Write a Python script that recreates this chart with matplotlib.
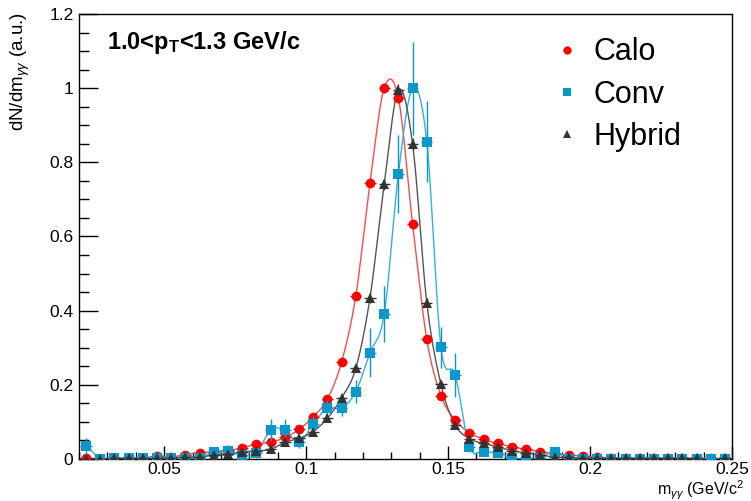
import numpy as np
import matplotlib
matplotlib.use("Agg")
import matplotlib.pyplot as plt
from matplotlib.lines import Line2D
from matplotlib.ticker import MultipleLocator, FuncFormatter

plt.rcParams['font.family'] = ['Liberation Sans', 'DejaVu Sans']
plt.rcParams['mathtext.fontset'] = 'custom'
plt.rcParams['mathtext.rm'] = 'Liberation Sans'
plt.rcParams['mathtext.it'] = 'Liberation Sans:italic'
plt.rcParams['mathtext.bf'] = 'Liberation Sans:bold'

# ---------------- data ----------------
mass = 0.0225 + 0.005 * np.arange(46)   # bin centres (GeV/c^2)

calo = [0.002, 0.001, 0.002, 0.002, 0.003, 0.008, 0.006, 0.012, 0.017, 0.019,
        0.023, 0.030, 0.041, 0.045, 0.058, 0.080, 0.114, 0.162, 0.262, 0.440,
        0.745, 1.000, 0.973, 0.633, 0.323, 0.171, 0.105, 0.071, 0.053, 0.042,
        0.033, 0.026, 0.020, 0.013, 0.011, 0.008, 0.005, 0.003, 0.002, 0.003,
        0.002, 0.002, 0.002, 0.002, 0.002, 0.002]
calo_err = [0.003, 0.002, 0.002, 0.002, 0.003, 0.004, 0.004, 0.004, 0.005, 0.005,
            0.005, 0.006, 0.006, 0.006, 0.007, 0.008, 0.009, 0.010, 0.010, 0.011,
            0.012, 0.013, 0.013, 0.012, 0.010, 0.009, 0.008, 0.007, 0.006, 0.006,
            0.005, 0.005, 0.004, 0.004, 0.004, 0.003, 0.003, 0.003, 0.002, 0.002,
            0.002, 0.002, 0.002, 0.002, 0.002, 0.002]

conv = [0.034, 0.001, 0.002, 0.002, 0.002, 0.002, 0.002, 0.003, 0.003, 0.020,
        0.021, 0.010, 0.016, 0.078, 0.078, 0.045, 0.095, 0.138, 0.137, 0.182,
        0.287, 0.391, 0.769, 1.000, 0.856, 0.301, 0.227, 0.033, 0.020, 0.017,
        0.002, 0.002, 0.004, 0.020, 0.001, 0.001, 0.001, 0.001, 0.001, 0.001,
        0.001, 0.001, 0.001, 0.001, 0.001, 0.001]
conv_err = [0.022, 0.002, 0.003, 0.003, 0.003, 0.003, 0.003, 0.003, 0.003, 0.010,
            0.010, 0.010, 0.012, 0.030, 0.030, 0.015, 0.020, 0.020, 0.020, 0.030,
            0.065, 0.075, 0.105, 0.125, 0.110, 0.055, 0.060, 0.015, 0.012, 0.010,
            0.003, 0.003, 0.004, 0.010, 0.002, 0.002, 0.002, 0.002, 0.002, 0.002,
            0.002, 0.002, 0.002, 0.002, 0.002, 0.002]

hybrid = [0.001, 0.001, 0.002, 0.002, 0.002, 0.002, 0.003, 0.006, 0.005, 0.011,
          0.013, 0.019, 0.022, 0.026, 0.045, 0.056, 0.074, 0.110, 0.165, 0.245,
          0.435, 0.741, 0.995, 0.849, 0.422, 0.201, 0.092, 0.055, 0.042, 0.033,
          0.022, 0.017, 0.011, 0.005, 0.005, 0.002, 0.003, 0.002, 0.002, 0.002,
          0.002, 0.002, 0.002, 0.002, np.nan, 0.002]
hybrid_err = [0.002, 0.002, 0.002, 0.002, 0.002, 0.002, 0.003, 0.003, 0.003, 0.004,
              0.004, 0.004, 0.005, 0.005, 0.006, 0.007, 0.008, 0.009, 0.010, 0.011,
              0.013, 0.015, 0.017, 0.016, 0.012, 0.009, 0.007, 0.006, 0.005, 0.005,
              0.004, 0.004, 0.003, 0.003, 0.003, 0.002, 0.002, 0.002, 0.002, 0.002,
              0.002, 0.002, 0.002, 0.002, np.nan, 0.002]

labels = ["Calo", "Conv", "Hybrid"]
colors = ["#ff0000", "#0a97c9", "#333333"]
line_colors = ["#ff4a4a", "#38aee0", "#555555"]
markers = ["o", "s", "^"]
msizes = [7.0, 6.5, 7.0]
x_half = 0.002


def smooth_curve(x, y, n=20):
    """Catmull-Rom curve through consecutive valid points (breaks at NaN)."""
    x = np.asarray(x, float)
    y = np.asarray(y, float)
    xs_all, ys_all = [], []
    valid = ~np.isnan(y)
    idx = np.where(valid)[0]
    runs = np.split(idx, np.where(np.diff(idx) != 1)[0] + 1)
    for r in runs:
        if len(r) < 2:
            continue
        px = x[r]
        py = y[r]
        px_p = np.concatenate([[2 * px[0] - px[1]], px, [2 * px[-1] - px[-2]]])
        py_p = np.concatenate([[py[0]], py, [py[-1]]])
        t = np.linspace(0, 1, n, endpoint=False)
        segx, segy = [], []
        for i in range(1, len(px_p) - 2):
            p0, p1, p2, p3 = py_p[i - 1], py_p[i], py_p[i + 1], py_p[i + 2]
            m1 = (p2 - p0) / 2.0
            m2 = (p3 - p1) / 2.0
            h00 = 2 * t**3 - 3 * t**2 + 1
            h10 = t**3 - 2 * t**2 + t
            h01 = -2 * t**3 + 3 * t**2
            h11 = t**3 - t**2
            segy.append(h00 * p1 + h10 * m1 + h01 * p2 + h11 * m2)
            segx.append(px_p[i] + t * (px_p[i + 1] - px_p[i]))
        segx.append([px[-1]])
        segy.append([py[-1]])
        xs_all.append(np.concatenate(segx))
        ys_all.append(np.concatenate(segy))
        xs_all.append([np.nan])
        ys_all.append([np.nan])
    return np.concatenate(xs_all), np.concatenate(ys_all)


fig = plt.figure(figsize=(7.51, 5.01), dpi=100)
ax = fig.add_axes([79 / 751, 1 - 459 / 501, 653 / 751, 445 / 501])

series = [(calo, calo_err), (conv, conv_err), (hybrid, hybrid_err)]

for (vals, errs), lc in zip(series, line_colors):
    sx, sy = smooth_curve(mass, vals)
    ax.plot(sx, sy, color=lc, lw=1.0, zorder=2, clip_on=True)

for i, ((vals, errs), c, m, ms) in enumerate(zip(series, colors, markers, msizes)):
    ax.errorbar(mass, vals, yerr=errs, xerr=x_half, fmt=m, color=c, ms=ms,
                mec=c, mew=0, elinewidth=1.0, capsize=0, zorder=3 + i)

ax.set_xlim(0.02, 0.25)
ax.set_ylim(0, 1.2)

ax.xaxis.set_major_locator(MultipleLocator(0.05))
ax.xaxis.set_minor_locator(MultipleLocator(0.01))
ax.yaxis.set_major_locator(MultipleLocator(0.2))
ax.yaxis.set_minor_locator(MultipleLocator(0.05))
fmt = FuncFormatter(lambda v, p: "%g" % round(v, 4))
ax.xaxis.set_major_formatter(fmt)
ax.yaxis.set_major_formatter(fmt)

ax.tick_params(axis='both', which='both', direction='in', top=False, right=False,
               labelsize=12.5, width=1.0, color='black')
ax.tick_params(axis='y', which='major', length=13.5, pad=4)
ax.tick_params(axis='y', which='minor', length=7)
ax.tick_params(axis='x', which='major', length=9.5, pad=2.5)
ax.tick_params(axis='x', which='minor', length=5)
for s in ax.spines.values():
    s.set_linewidth(1.0)

ax.set_ylabel(r"dN/dm$_{\gamma\gamma}$ (a.u.)", fontsize=13.5, loc='top')
ax.yaxis.set_label_coords(-0.072, 1.005)
ax.set_xlabel(r"m$_{\gamma\gamma}$ (GeV/c$^{2}$", fontsize=11.5, loc='right')
ax.xaxis.set_label_coords(1.018, -0.071)
ax.xaxis.label.set_va('center')

ax.text(0.043, 0.937, r"1.0<p$_{\mathbf{T}}$<1.3 GeV/c", transform=ax.transAxes,
        fontsize=17, fontweight='bold', ha='left', va='center')

handles = [Line2D([], [], linestyle='none', marker=m, color=c, ms=ms * 0.85, mew=0)
           for m, c, ms in zip(markers, colors, msizes)]
leg = ax.legend(handles, labels, loc='upper left', bbox_to_anchor=(0.71, 0.975),
                frameon=False, fontsize=22, handlelength=0.8, handletextpad=0.45,
                labelspacing=0.40, borderaxespad=0)

fig.savefig("out.png", dpi=100)
